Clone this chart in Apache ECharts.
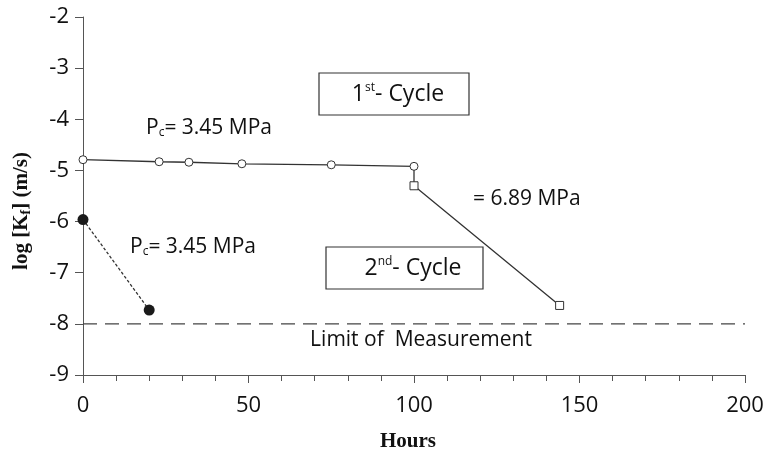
<!DOCTYPE html>
<html>
<head>
<meta charset="utf-8">
<script src="https://cdn.jsdelivr.net/npm/echarts@6/dist/echarts.min.js"></script>
<style>
  html, body { margin: 0; padding: 0; background: #fff; }
  #chart { width: 777px; height: 467px; }
</style>
</head>
<body>
<div id="chart"></div>
<script>
// 1st cycle, Pc = 3.45 MPa (open circles)
var cycle1Hours = [0, 23, 32, 48, 75, 100];
var cycle1Logk = [-4.79, -4.83, -4.84, -4.87, -4.89, -4.92];
// 1st cycle, Pc = 6.89 MPa (squares), starts from last open circle
var cycle1bHours = [100, 100, 144];
var cycle1bLogk = [-4.92, -5.30, -7.64];
// 2nd cycle, Pc = 3.45 MPa (filled circles)
var cycle2Hours = [0, 20];
var cycle2Logk = [-5.96, -7.73];
// limit of measurement
var limitHours = [0, 200];
var limitLogk = [-8, -8];

function pairs(xs, ys) {
  var out = [];
  for (var i = 0; i < xs.length; i++) {
    out.push([xs[i], ys[i]]);
  }
  return out;
}

var font = '"Open Sans", "Noto Sans", sans-serif';
var serif = '"Liberation Serif", "DejaVu Serif", serif';
var ink = '#333';
var txt = '#111';

var squareData = pairs(cycle1bHours, cycle1bLogk);
squareData[0] = { value: squareData[0], symbol: 'none' };

var chart = echarts.init(document.getElementById('chart'));
var option = {
  animation: false,
  grid: { left: 83, right: 32, top: 17, bottom: 92, outerBoundsMode: 'none', containLabel: false },
  xAxis: {
    type: 'value',
    min: 0,
    max: 200,
    interval: 50,
    axisLine: { lineStyle: { color: '#555', width: 1 } },
    axisTick: { length: 8, lineStyle: { color: '#555' } },
    minorTick: { show: true, splitNumber: 5, length: 6, lineStyle: { color: '#555' } },
    splitLine: { show: false },
    axisLabel: { fontFamily: font, fontSize: 22, color: txt, margin: 20 }
  },
  yAxis: {
    type: 'value',
    min: -9,
    max: -2,
    interval: 1,
    axisLine: { show: true, lineStyle: { color: '#555', width: 1 } },
    axisTick: { show: true, length: 8, lineStyle: { color: '#555' } },
    splitLine: { show: false },
    axisLabel: { fontFamily: font, fontSize: 22, color: txt, margin: 14 }
  },
  series: [
    {
      type: 'line',
      data: pairs(limitHours, limitLogk),
      symbol: 'none',
      lineStyle: { color: '#444', width: 1.3, type: [14, 8] },
      z: 1
    },
    {
      type: 'line',
      data: pairs(cycle1Hours, cycle1Logk),
      symbol: 'circle',
      symbolSize: 8,
      itemStyle: { color: '#fff', borderColor: ink, borderWidth: 1 },
      lineStyle: { color: ink, width: 1.3 }
    },
    {
      type: 'line',
      data: squareData,
      symbol: 'rect',
      symbolSize: 8,
      itemStyle: { color: '#fff', borderColor: ink, borderWidth: 1 },
      lineStyle: { color: ink, width: 1.3 }
    },
    {
      type: 'line',
      data: pairs(cycle2Hours, cycle2Logk),
      symbol: 'circle',
      symbolSize: 11,
      itemStyle: { color: '#1a1a1a', borderColor: '#1a1a1a', borderWidth: 0 },
      lineStyle: { color: ink, width: 1.3, type: [3, 2] }
    }
  ],
  graphic: [
    {
      type: 'text',
      x: 22, y: 211,
      rotation: Math.PI / 2,
      style: {
        text: '{a|log [K}{s|f}{a|] (m/s)}',
        align: 'center', verticalAlign: 'middle',
        rich: {
          a: { fontFamily: serif, fontWeight: 'bold', fontSize: 21, fill: txt },
          s: { fontFamily: serif, fontWeight: 'bold', fontSize: 14, fill: txt, verticalAlign: 'bottom', padding: [8, 0, 0, 0] }
        }
      }
    },
    {
      type: 'text',
      x: 408, y: 442,
      style: { text: 'Hours', align: 'center', verticalAlign: 'middle', fontFamily: serif, fontWeight: 'bold', fontSize: 21, fill: txt }
    },
    {
      type: 'rect',
      shape: { x: 319, y: 73, width: 150, height: 42 },
      style: { fill: '#fff', stroke: ink, lineWidth: 1.2 }
    },
    {
      type: 'text',
      x: 398, y: 94,
      style: {
        text: '{n|1}{p|st}{n|- Cycle}',
        align: 'center', verticalAlign: 'middle',
        rich: {
          n: { fontFamily: font, fontSize: 23, fill: txt },
          p: { fontFamily: font, fontSize: 12, fill: txt, verticalAlign: 'top', padding: [0, 0, 12, 0] }
        }
      }
    },
    {
      type: 'rect',
      shape: { x: 326, y: 247, width: 157, height: 42 },
      style: { fill: '#fff', stroke: ink, lineWidth: 1.2 }
    },
    {
      type: 'text',
      x: 413, y: 268,
      style: {
        text: '{n|2}{p|nd}{n|- Cycle}',
        align: 'center', verticalAlign: 'middle',
        rich: {
          n: { fontFamily: font, fontSize: 23, fill: txt },
          p: { fontFamily: font, fontSize: 12, fill: txt, verticalAlign: 'top', padding: [0, 0, 12, 0] }
        }
      }
    },
    {
      type: 'text',
      x: 146, y: 128,
      style: {
        text: '{n|P}{b|c}{n|= 3.45 MPa}',
        verticalAlign: 'middle',
        rich: {
          n: { fontFamily: font, fontSize: 21, fill: txt },
          b: { fontFamily: font, fontSize: 12, fill: txt, verticalAlign: 'bottom', padding: [9, 0, 0, 0] }
        }
      }
    },
    {
      type: 'text',
      x: 130, y: 247,
      style: {
        text: '{n|P}{b|c}{n|= 3.45 MPa}',
        verticalAlign: 'middle',
        rich: {
          n: { fontFamily: font, fontSize: 21, fill: txt },
          b: { fontFamily: font, fontSize: 12, fill: txt, verticalAlign: 'bottom', padding: [9, 0, 0, 0] }
        }
      }
    },
    {
      type: 'text',
      x: 473, y: 199,
      style: { text: '= 6.89 MPa', verticalAlign: 'middle', fontFamily: font, fontSize: 21, fill: txt }
    },
    {
      type: 'text',
      x: 421, y: 340,
      style: { text: 'Limit of  Measurement', align: 'center', verticalAlign: 'middle', fontFamily: font, fontSize: 21, fill: txt }
    }
  ]
};
chart.setOption(option);
</script>
</body>
</html>
